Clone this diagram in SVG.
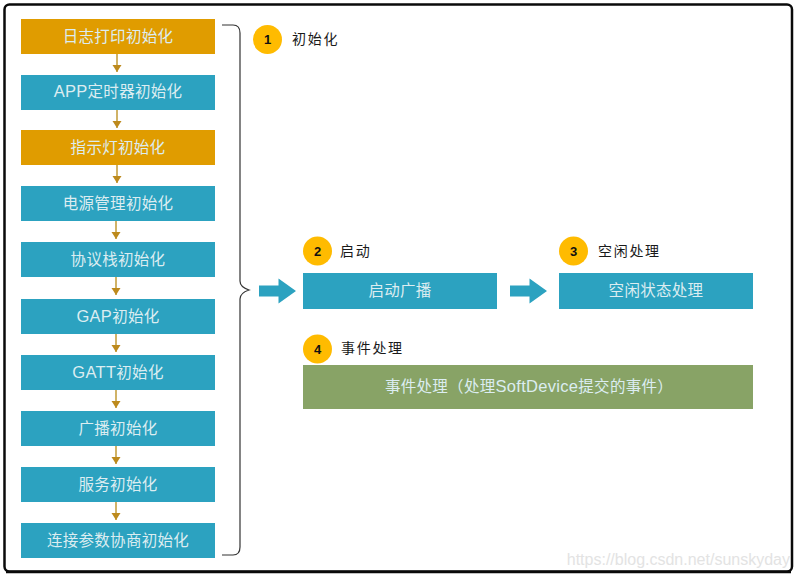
<svg xmlns="http://www.w3.org/2000/svg" width="799" height="577" viewBox="0 0 799 577">
<style>
.t{font-family:"Liberation Sans","Noto Sans CJK SC",sans-serif;font-size:15.5px;fill:#dcedf1;text-anchor:middle;letter-spacing:.3px}
.e{font-size:16.5px}
.l{font-family:"Noto Sans CJK SC","Liberation Sans",sans-serif;font-size:14px;fill:#1a1a1a;letter-spacing:1.7px}
.n{font-family:"Liberation Sans",sans-serif;font-size:13px;font-weight:bold;fill:#111;text-anchor:middle}
.o{fill:#e09c00}.b{fill:#2ca2c0}.g{fill:#88a366}.c{fill:#ffbb00}
.d{stroke:#c09a35;stroke-width:1.500;fill:none;marker-end:url(#a)}
</style>
<defs><marker id="a" markerUnits="userSpaceOnUse" markerWidth="10" markerHeight="10" refX="7" refY="5" orient="auto"><path d="M0 0.500L7 5L0 9.500Z" fill="#bd8a1d"/></marker>
<path id="big" d="M0 -5.500H19.500V-12.500L37 0L19.500 12.500V5.500H0Z" fill="#2ca2c0"/></defs>
<rect width="799" height="577" fill="#fff"/>
<rect x="4.500" y="4.500" width="787.500" height="567" rx="5" fill="#fff" stroke="#0a0a0a" stroke-width="2.500"/>
<path d="M6 572H791" stroke="#0a0a0a" stroke-width="2.500" fill="none"/>
<g id="connectors">
<path class="d" d="M117 54V72"/><path class="d" d="M117 110V128"/><path class="d" d="M117 165V183"/><path class="d" d="M116 221V239"/><path class="d" d="M116 277V295"/><path class="d" d="M116 334V352"/><path class="d" d="M116 390V408"/><path class="d" d="M116 446V464"/><path class="d" d="M116 502V520"/>
<path d="M222 25H233Q240 25 240 33V281Q240 287 249 290Q240 293 240 299V547Q240 555 233 555H222" fill="none" stroke="#333" stroke-width="1.200"/>
<use href="#big" x="259" y="291"/><use href="#big" x="510" y="291"/>
</g>
<g id="n1"><rect class="o" x="21" y="19" width="194" height="35"/><text class="t" x="118" y="42">日志打印初始化</text></g>
<g id="n2"><rect class="b" x="21" y="75" width="194" height="35"/><text class="t" x="118" y="97"><tspan class="e">APP</tspan>定时器初始化</text></g>
<g id="n3"><rect class="o" x="21" y="130" width="194" height="35"/><text class="t" x="118" y="153">指示灯初始化</text></g>
<g id="n4"><rect class="b" x="21" y="186" width="194" height="35"/><text class="t" x="118" y="209">电源管理初始化</text></g>
<g id="n5"><rect class="b" x="21" y="242" width="194" height="35"/><text class="t" x="118" y="265">协议栈初始化</text></g>
<g id="n6"><rect class="b" x="21" y="299" width="194" height="35"/><text class="t" x="118" y="322"><tspan class="e">GAP</tspan>初始化</text></g>
<g id="n7"><rect class="b" x="21" y="355" width="194" height="35"/><text class="t" x="118" y="378"><tspan class="e">GATT</tspan>初始化</text></g>
<g id="n8"><rect class="b" x="21" y="411" width="194" height="35"/><text class="t" x="118" y="434">广播初始化</text></g>
<g id="n9"><rect class="b" x="21" y="467" width="194" height="35"/><text class="t" x="118" y="490">服务初始化</text></g>
<g id="n10"><rect class="b" x="21" y="523" width="194" height="35"/><text class="t" x="118" y="546">连接参数协商初始化</text></g>
<g id="s1"><circle class="c" cx="267.500" cy="39.500" r="14.500"/><text class="n" x="267.500" y="44">1</text><text class="l" x="292" y="44">初始化</text></g>
<g id="s2"><circle class="c" cx="317.500" cy="251" r="14.500"/><text class="n" x="317.500" y="256">2</text><text class="l" x="340" y="256">启动</text></g>
<g id="s3"><circle class="c" cx="573.500" cy="251" r="14.500"/><text class="n" x="573.500" y="256">3</text><text class="l" x="598" y="256">空闲处理</text></g>
<g id="s4"><circle class="c" cx="317.500" cy="349" r="14.500"/><text class="n" x="317.500" y="354">4</text><text class="l" x="341" y="353">事件处理</text></g>
<g id="b2"><rect class="b" x="303" y="273" width="194" height="36"/><text class="t" x="400" y="296">启动广播</text></g>
<g id="b3"><rect class="b" x="559" y="273" width="194" height="36"/><text class="t" x="656" y="296">空闲状态处理</text></g>
<g id="b4"><rect class="g" x="303" y="365" width="450" height="44"/><text class="t" x="529" y="392">事件处理（处理<tspan class="e">SoftDevice</tspan>提交的事件）</text></g>
<text x="790" y="565" text-anchor="end" font-family="Liberation Sans,sans-serif" font-size="16" fill="#e3e3e3">https://blog.csdn.net/sunskyday</text>
</svg>
